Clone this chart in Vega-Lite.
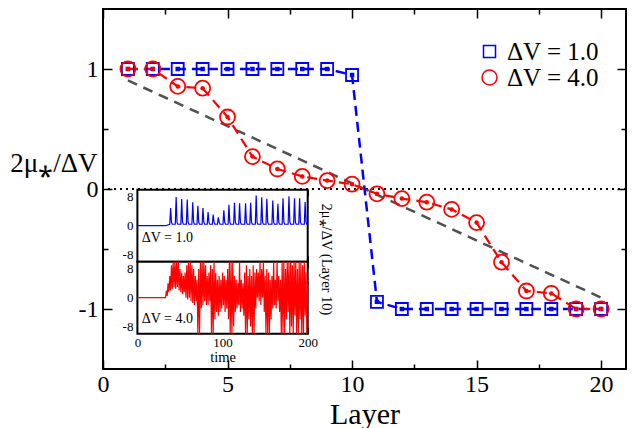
{
"$schema": "https://vega.github.io/schema/vega-lite/v6.json",
"width": 523, "height": 360,
"autosize": {"type": "none"},
"padding": {"left": 103, "top": 9, "right": 7, "bottom": 59},
"config": {
  "font": "Liberation Serif",
  "view": {"stroke": "black", "strokeWidth": 2},
  "axis": {"domain": false, "grid": false, "tickColor": "black", "tickWidth": 1.5, "labelColor": "black", "titleColor": "black", "titleFontWeight": "normal", "labelFont": "Liberation Serif", "titleFont": "Liberation Serif", "zindex": 1, "labelFlush": false, "labelOverlap": false},
  "legend": {"orient": "none", "legendX": 374, "legendY": 30, "labelFontSize": 25, "labelFont": "Liberation Serif", "labelColor": "black", "symbolSize": 170, "symbolStrokeWidth": 1.5, "rowPadding": 0, "labelOffset": 5, "padding": 0, "labelLimit": 300}
},
"datasets": {
  "main": [
    {"layer":1,"value":1,"series":"ΔV = 1.0"},{"layer":2,"value":1,"series":"ΔV = 1.0"},{"layer":3,"value":1,"series":"ΔV = 1.0"},{"layer":4,"value":1,"series":"ΔV = 1.0"},{"layer":5,"value":1,"series":"ΔV = 1.0"},{"layer":6,"value":1,"series":"ΔV = 1.0"},{"layer":7,"value":1,"series":"ΔV = 1.0"},{"layer":8,"value":1,"series":"ΔV = 1.0"},{"layer":9,"value":1,"series":"ΔV = 1.0"},{"layer":10,"value":0.95,"series":"ΔV = 1.0"},{"layer":11,"value":-0.94,"series":"ΔV = 1.0"},{"layer":12,"value":-1,"series":"ΔV = 1.0"},{"layer":13,"value":-1,"series":"ΔV = 1.0"},{"layer":14,"value":-1,"series":"ΔV = 1.0"},{"layer":15,"value":-1,"series":"ΔV = 1.0"},{"layer":16,"value":-1,"series":"ΔV = 1.0"},{"layer":17,"value":-1,"series":"ΔV = 1.0"},{"layer":18,"value":-1,"series":"ΔV = 1.0"},{"layer":19,"value":-1,"series":"ΔV = 1.0"},{"layer":20,"value":-1,"series":"ΔV = 1.0"},
    {"layer":1,"value":1,"series":"ΔV = 4.0"},{"layer":2,"value":1,"series":"ΔV = 4.0"},{"layer":3,"value":0.855,"series":"ΔV = 4.0"},{"layer":4,"value":0.84,"series":"ΔV = 4.0"},{"layer":5,"value":0.6,"series":"ΔV = 4.0"},{"layer":6,"value":0.27,"series":"ΔV = 4.0"},{"layer":7,"value":0.167,"series":"ΔV = 4.0"},{"layer":8,"value":0.105,"series":"ΔV = 4.0"},{"layer":9,"value":0.07,"series":"ΔV = 4.0"},{"layer":10,"value":0.04,"series":"ΔV = 4.0"},{"layer":11,"value":-0.04,"series":"ΔV = 4.0"},{"layer":12,"value":-0.08,"series":"ΔV = 4.0"},{"layer":13,"value":-0.11,"series":"ΔV = 4.0"},{"layer":14,"value":-0.17,"series":"ΔV = 4.0"},{"layer":15,"value":-0.28,"series":"ΔV = 4.0"},{"layer":16,"value":-0.61,"series":"ΔV = 4.0"},{"layer":17,"value":-0.85,"series":"ΔV = 4.0"},{"layer":18,"value":-0.87,"series":"ΔV = 4.0"},{"layer":19,"value":-1,"series":"ΔV = 4.0"},{"layer":20,"value":-1,"series":"ΔV = 4.0"}
  ],
  "grey": [{"layer":1,"value":0.905},{"layer":20,"value":-0.905}],
  "dv1": [
    {"t":0,"v":0},{"t":33,"v":0},{"t":38,"v":0.4},{"t":39,"v":4.9},{"t":40,"v":1},{"t":41,"v":0.4},
    {"t":44.5,"v":0.4},{"t":45.5,"v":8},{"t":46.5,"v":1},{"t":47.5,"v":0.4},
    {"t":51,"v":0.4},{"t":52,"v":7.4},{"t":53,"v":1},{"t":54,"v":0.4},
    {"t":57.5,"v":0.4},{"t":58.5,"v":7.3},{"t":59.5,"v":1},{"t":60.5,"v":0.4},
    {"t":64,"v":0.4},{"t":65,"v":6.5},{"t":66,"v":1},{"t":67,"v":0.4},
    {"t":70,"v":0.4},{"t":71,"v":5.5},{"t":72,"v":1},{"t":73,"v":0.4},
    {"t":76,"v":0.4},{"t":77,"v":4.9},{"t":78,"v":1},{"t":79,"v":0.4},
    {"t":82,"v":0.4},{"t":83,"v":3.8},{"t":84,"v":1},{"t":85,"v":0.4},
    {"t":88,"v":0.4},{"t":89,"v":3.1},{"t":90,"v":1},{"t":91,"v":0.4},
    {"t":94,"v":0.4},{"t":95,"v":2.3},{"t":96,"v":1},{"t":97,"v":0.4},
    {"t":100.5,"v":0.4},{"t":101.5,"v":4.3},{"t":102.5,"v":1},{"t":103.5,"v":0.4},
    {"t":106.5,"v":0.4},{"t":107.5,"v":5.8},{"t":108.5,"v":1},{"t":109.5,"v":0.4},
    {"t":113,"v":0.4},{"t":114,"v":6.4},{"t":115,"v":1},{"t":116,"v":0.4},
    {"t":119,"v":0.4},{"t":120,"v":6.2},{"t":121,"v":1},{"t":122,"v":0.4},
    {"t":126,"v":0.4},{"t":127,"v":6.2},{"t":128,"v":1},{"t":129,"v":0.4},
    {"t":132,"v":0.4},{"t":133,"v":6.4},{"t":134,"v":1},{"t":135,"v":0.4},
    {"t":138.5,"v":0.4},{"t":139.5,"v":8.4},{"t":140.5,"v":1},{"t":141.5,"v":0.4},
    {"t":145,"v":0.4},{"t":146,"v":7.9},{"t":147,"v":1},{"t":148,"v":0.4},
    {"t":151,"v":0.4},{"t":152,"v":7.5},{"t":153,"v":1},{"t":154,"v":0.4},
    {"t":158,"v":0.4},{"t":159,"v":7},{"t":160,"v":1},{"t":161,"v":0.4},
    {"t":164,"v":0.4},{"t":165,"v":6.1},{"t":166,"v":1},{"t":167,"v":0.4},
    {"t":170,"v":0.4},{"t":171,"v":7.6},{"t":172,"v":1},{"t":173,"v":0.4},
    {"t":177,"v":0.4},{"t":178,"v":8.2},{"t":179,"v":1},{"t":180,"v":0.4},
    {"t":183.5,"v":0.4},{"t":184.5,"v":7.6},{"t":185.5,"v":1},{"t":186.5,"v":0.4},
    {"t":189.5,"v":0.4},{"t":190.5,"v":7.6},{"t":191.5,"v":1},{"t":192.5,"v":0.4},
    {"t":196,"v":0.4},{"t":197,"v":6.6},{"t":198,"v":1},{"t":199,"v":0.4},{"t":200,"v":0.4}
  ],
  "dv4": [
    {"t":0,"v":0},{"t":33,"v":0},{"t":34,"v":2},{"t":35,"v":0.5},{"t":36,"v":4},{"t":37,"v":1.5},{"t":38,"v":6},{"t":39,"v":2},{"t":40,"v":9},
    {"t":41,"v":2.5},{"t":42,"v":10},{"t":43,"v":3},{"t":44,"v":10},{"t":45,"v":2.5},{"t":46,"v":10},{"t":47,"v":3},{"t":48,"v":10},{"t":49,"v":2},{"t":50,"v":8},
    {"t":51,"v":1.5},{"t":52,"v":7},{"t":53,"v":1},{"t":54,"v":6},{"t":55,"v":1.5},{"t":56,"v":7},{"t":57,"v":0},{"t":58,"v":9},{"t":59,"v":-0.5},{"t":60,"v":10},
    {"t":61,"v":0},{"t":62,"v":10},{"t":63,"v":-1},{"t":64,"v":9},{"t":65,"v":-1.5},{"t":66,"v":8},{"t":67,"v":-2},{"t":68,"v":6},{"t":69,"v":-1},{"t":70,"v":5},
    {"t":71,"v":-10},{"t":72,"v":8},{"t":73,"v":-10},{"t":74,"v":10},{"t":75,"v":-3},{"t":76,"v":10},{"t":77,"v":-2},{"t":78,"v":10},{"t":79,"v":-1},{"t":80,"v":9},
    {"t":81,"v":-2},{"t":82,"v":6},{"t":83,"v":-2},{"t":84,"v":7},{"t":85,"v":-1},{"t":86,"v":9},{"t":87,"v":-10},{"t":88,"v":8},{"t":89,"v":-10},{"t":90,"v":10},
    {"t":91,"v":-6},{"t":92,"v":7},{"t":93,"v":-4},{"t":94,"v":5},{"t":95,"v":-5},{"t":96,"v":6},{"t":97,"v":-4},{"t":98,"v":5},{"t":99,"v":-3},{"t":100,"v":7},
    {"t":101,"v":-2},{"t":102,"v":6},{"t":103,"v":-4},{"t":104,"v":5},{"t":105,"v":-3},{"t":106,"v":8},{"t":107,"v":-6},{"t":108,"v":10},{"t":109,"v":-10},{"t":110,"v":10},
    {"t":111,"v":-10},{"t":112,"v":10},{"t":113,"v":-8},{"t":114,"v":6},{"t":115,"v":-4},{"t":116,"v":5},{"t":117,"v":-3},{"t":118,"v":4},{"t":119,"v":-2},{"t":120,"v":10},
    {"t":121,"v":-4},{"t":122,"v":5},{"t":123,"v":-3},{"t":124,"v":4},{"t":125,"v":-5},{"t":126,"v":7},{"t":127,"v":-10},{"t":128,"v":9},{"t":129,"v":-10},{"t":130,"v":6},
    {"t":131,"v":-6},{"t":132,"v":8},{"t":133,"v":-8},{"t":134,"v":6},{"t":135,"v":-10},{"t":136,"v":9},{"t":137,"v":-10},{"t":138,"v":7},{"t":139,"v":-3},{"t":140,"v":8},
    {"t":141,"v":0},{"t":142,"v":7},{"t":143,"v":-1},{"t":144,"v":10},{"t":145,"v":-2},{"t":146,"v":8},{"t":147,"v":0},{"t":148,"v":10},{"t":149,"v":-4},{"t":150,"v":6},
    {"t":151,"v":-10},{"t":152,"v":8},{"t":153,"v":-10},{"t":154,"v":7},{"t":155,"v":-10},{"t":156,"v":5},{"t":157,"v":-6},{"t":158,"v":6},{"t":159,"v":-3},{"t":160,"v":10},
    {"t":161,"v":-2},{"t":162,"v":5},{"t":163,"v":-3},{"t":164,"v":10},{"t":165,"v":-1},{"t":166,"v":6},{"t":167,"v":-4},{"t":168,"v":5},{"t":169,"v":-10},{"t":170,"v":10},
    {"t":171,"v":-10},{"t":172,"v":10},{"t":173,"v":-10},{"t":174,"v":8},{"t":175,"v":-6},{"t":176,"v":10},{"t":177,"v":-4},{"t":178,"v":10},{"t":179,"v":-10},{"t":180,"v":10},
    {"t":181,"v":-8},{"t":182,"v":9},{"t":183,"v":-10},{"t":184,"v":10},{"t":185,"v":-5},{"t":186,"v":10},{"t":187,"v":-10},{"t":188,"v":8},{"t":189,"v":-10},{"t":190,"v":10},
    {"t":191,"v":-6},{"t":192,"v":10},{"t":193,"v":-10},{"t":194,"v":9},{"t":195,"v":-10},{"t":196,"v":10},{"t":197,"v":-5},{"t":198,"v":7},{"t":199,"v":-10},{"t":200,"v":4}
  ]
},
"layer": [
  {
    "layer": [
      {"data": {"values": [{}]},
       "mark": {"type": "rule", "strokeDash": [2, 4], "strokeWidth": 2, "color": "black"},
       "encoding": {"y": {"datum": 0, "type": "quantitative", "scale": {"domain": [-1.5, 1.5], "nice": false, "zero": false}, "axis": null}}},
      {"data": {"name": "grey"},
       "mark": {"type": "line", "color": "#505050", "strokeDash": [10, 7], "strokeWidth": 2.5},
       "encoding": {
         "x": {"field": "layer", "type": "quantitative", "scale": {"domain": [0, 21], "nice": false, "zero": false},
               "axis": {"orient": "bottom", "values": [0, 5, 10, 15, 20], "tickSize": -9, "labelPadding": 12, "labelFontSize": 24, "title": "Layer", "titleFontSize": 30, "titleBaseline": "alphabetic", "titleY": 54}},
         "y": {"field": "value", "type": "quantitative", "scale": {"domain": [-1.5, 1.5], "nice": false, "zero": false},
               "axis": {"orient": "left", "values": [-1, 0, 1], "tickSize": -9, "labelPadding": 14, "labelFontSize": 24, "labelExpr": "replace(datum.label, '−', '-')", "title": "2μ⁎/ΔV", "titleAngle": 0, "titleAlign": "right", "titleBaseline": "middle", "titleX": -6, "titleY": 154, "titleFontSize": 27}}
       }},
      {"data": {"name": "main"},
       "transform": [{"filter": "datum.series === 'ΔV = 1.0'"}],
       "mark": {"type": "line", "strokeDash": [10, 6], "strokeWidth": 2.5, "color": "#0000ff"},
       "encoding": {
         "x": {"field": "layer", "type": "quantitative", "scale": {"domain": [0, 21], "nice": false, "zero": false},
               "axis": {"orient": "bottom", "values": [2.5, 7.5, 12.5, 17.5], "tickSize": -5, "labels": false, "title": null}},
         "y": {"field": "value", "type": "quantitative", "scale": {"domain": [-1.5, 1.5], "nice": false, "zero": false},
               "axis": {"orient": "left", "values": [-0.5, 0.5], "tickSize": -5, "labels": false, "title": null}}
       }},
      {"data": {"name": "main"},
       "transform": [{"filter": "datum.series === 'ΔV = 4.0'"}],
       "mark": {"type": "line", "strokeDash": [10, 6], "strokeWidth": 2.2, "color": "#ff0000"},
       "encoding": {
         "x": {"field": "layer", "type": "quantitative", "scale": {"domain": [0, 21], "nice": false, "zero": false}, "axis": null},
         "y": {"field": "value", "type": "quantitative", "scale": {"domain": [-1.5, 1.5], "nice": false, "zero": false}, "axis": null}
       }},
      {"data": {"name": "main"},
       "mark": {"type": "point", "filled": false, "strokeWidth": 1.8, "opacity": 1},
       "encoding": {
         "x": {"field": "layer", "type": "quantitative", "scale": {"domain": [0, 21], "nice": false, "zero": false},
               "axis": {"orient": "top", "values": [0, 5, 10, 15, 20], "tickSize": -9, "labels": false, "title": null}},
         "y": {"field": "value", "type": "quantitative", "scale": {"domain": [-1.5, 1.5], "nice": false, "zero": false},
               "axis": {"orient": "right", "values": [-1, 0, 1], "tickSize": -9, "labels": false, "title": null}},
         "color": {"field": "series", "type": "nominal", "scale": {"domain": ["ΔV = 1.0", "ΔV = 4.0"], "range": ["#0000ff", "#ff0000"]}, "legend": {"title": null, "labelFont": "Liberation Serif", "labelFontSize": 25}},
         "shape": {"field": "series", "type": "nominal", "scale": {"domain": ["ΔV = 1.0", "ΔV = 4.0"], "range": ["square", "circle"]}, "legend": {"title": null, "labelFont": "Liberation Serif", "labelFontSize": 25}},
         "size": {"field": "series", "type": "nominal", "scale": {"type": "ordinal", "domain": ["ΔV = 1.0", "ΔV = 4.0"], "range": [144, 225]}, "legend": null}
       }},
      {"data": {"name": "main"},
       "transform": [{"filter": "datum.series === 'ΔV = 1.0'"}],
       "mark": {"type": "point", "shape": "square", "filled": true, "size": 20, "opacity": 1, "color": "#0000ff"},
       "encoding": {
         "x": {"field": "layer", "type": "quantitative", "scale": {"domain": [0, 21], "nice": false, "zero": false},
               "axis": {"orient": "top", "values": [2.5, 7.5, 12.5, 17.5], "tickSize": -5, "labels": false, "title": null}},
         "y": {"field": "value", "type": "quantitative", "scale": {"domain": [-1.5, 1.5], "nice": false, "zero": false},
               "axis": {"orient": "right", "values": [-0.5, 0.5], "tickSize": -5, "labels": false, "title": null}}
       }},
      {"data": {"name": "main"},
       "transform": [{"filter": "datum.series === 'ΔV = 4.0'"}],
       "mark": {"type": "point", "shape": "circle", "filled": true, "size": 20, "opacity": 1, "color": "#ff0000"},
       "encoding": {
         "x": {"field": "layer", "type": "quantitative", "scale": {"domain": [0, 21], "nice": false, "zero": false}, "axis": null},
         "y": {"field": "value", "type": "quantitative", "scale": {"domain": [-1.5, 1.5], "nice": false, "zero": false}, "axis": null}
       }}
    ],
    "resolve": {"axis": {"x": "independent", "y": "independent"}}
  },
  {
    "layer": [
      {"data": {"values": [{}]},
       "mark": {"type": "rect", "fill": "white", "stroke": "black", "strokeWidth": 2},
       "encoding": {
         "x": {"datum": 0, "type": "quantitative", "scale": {"domain": [0, 200], "range": [34.4, 204.7], "nice": false, "zero": false},
               "axis": {"orient": "bottom", "offset": -107.3, "values": [0, 25, 50, 75, 100, 125, 150, 175, 200], "tickSize": -6, "tickWidth": 1, "labels": false, "title": null}},
         "x2": {"datum": 200},
         "y": {"datum": -10, "type": "quantitative", "scale": {"domain": [-10, 10], "range": [252.7, 180.7], "nice": false, "zero": false},
               "axis": {"orient": "left", "offset": -34.4, "values": [-8, -4, 0, 4, 8], "tickSize": -6, "tickWidth": 1, "labelPadding": 10.5, "labelFontSize": 13, "labelExpr": "datum.value === 8 ? '8' : datum.value === 0 ? '0' : datum.value === -8 ? '-8' : ''", "title": null}},
         "y2": {"datum": 10}
       }},
      {"data": {"name": "dv1"},
       "mark": {"type": "line", "color": "#0000ff", "strokeWidth": 1.2},
       "encoding": {
         "x": {"field": "t", "type": "quantitative", "scale": {"domain": [0, 200], "range": [34.4, 204.7], "nice": false, "zero": false},
               "axis": {"orient": "top", "offset": -180.7, "values": [0, 25, 50, 75, 100, 125, 150, 175, 200], "tickSize": -6, "tickWidth": 1, "labels": false, "title": null}},
         "y": {"field": "v", "type": "quantitative", "scale": {"domain": [-10, 10], "range": [252.7, 180.7], "nice": false, "zero": false},
               "axis": {"orient": "right", "offset": -318.3, "values": [-8, -4, 0, 4, 8], "tickSize": -6, "tickWidth": 1, "labels": false, "title": "2μ⁎/ΔV (Layer 10)", "titleAngle": 90, "titleAlign": "center", "titleBaseline": "middle", "titleX": 18, "titleY": 250, "titleFontSize": 14.5}}
       }},
      {"data": {"values": [{}]},
       "mark": {"type": "text", "align": "left", "baseline": "middle", "fontSize": 14, "font": "Liberation Serif", "color": "black"},
       "encoding": {
         "x": {"datum": 5, "type": "quantitative", "scale": {"domain": [0, 200], "range": [34.4, 204.7], "nice": false, "zero": false}, "axis": null},
         "y": {"datum": -3.5, "type": "quantitative", "scale": {"domain": [-10, 10], "range": [252.7, 180.7], "nice": false, "zero": false}, "axis": null},
         "text": {"value": "ΔV = 1.0"}
       }}
    ],
    "resolve": {"axis": {"x": "independent", "y": "independent"}}
  },
  {
    "layer": [
      {"data": {"values": [{}]},
       "mark": {"type": "rect", "fill": "white", "stroke": "black", "strokeWidth": 2},
       "encoding": {
         "x": {"datum": 0, "type": "quantitative", "scale": {"domain": [0, 200], "range": [34.4, 204.7], "nice": false, "zero": false},
               "axis": {"orient": "bottom", "offset": -35.3, "values": [0, 25, 50, 75, 100, 125, 150, 175, 200], "tickSize": -6, "tickWidth": 1, "labelPadding": 9, "labelFontSize": 13, "labelExpr": "datum.value % 100 === 0 ? datum.label : ''", "title": "time", "titleFontSize": 14.5, "titleBaseline": "alphabetic", "titleY": 27.5}},
         "x2": {"datum": 200},
         "y": {"datum": -10, "type": "quantitative", "scale": {"domain": [-10, 10], "range": [324.7, 252.7], "nice": false, "zero": false},
               "axis": {"orient": "left", "offset": -34.4, "values": [-8, -4, 0, 4, 8], "tickSize": -6, "tickWidth": 1, "labelPadding": 10.5, "labelFontSize": 13, "labelExpr": "datum.value === 8 ? '8' : datum.value === 0 ? '0' : datum.value === -8 ? '-8' : ''", "title": null}},
         "y2": {"datum": 10}
       }},
      {"data": {"name": "dv4"},
       "mark": {"type": "line", "color": "#ff0000", "strokeWidth": 1.2},
       "encoding": {
         "x": {"field": "t", "type": "quantitative", "scale": {"domain": [0, 200], "range": [34.4, 204.7], "nice": false, "zero": false},
               "axis": {"orient": "top", "offset": -252.7, "values": [0, 25, 50, 75, 100, 125, 150, 175, 200], "tickSize": -6, "tickWidth": 1, "labels": false, "title": null}},
         "y": {"field": "v", "type": "quantitative", "scale": {"domain": [-10, 10], "range": [324.7, 252.7], "nice": false, "zero": false},
               "axis": {"orient": "right", "offset": -318.3, "values": [-8, -4, 0, 4, 8], "tickSize": -6, "tickWidth": 1, "labels": false, "title": null}}
       }},
      {"data": {"values": [{}]},
       "mark": {"type": "text", "align": "left", "baseline": "middle", "fontSize": 14, "font": "Liberation Serif", "color": "black"},
       "encoding": {
         "x": {"datum": 5, "type": "quantitative", "scale": {"domain": [0, 200], "range": [34.4, 204.7], "nice": false, "zero": false}, "axis": null},
         "y": {"datum": -5.8, "type": "quantitative", "scale": {"domain": [-10, 10], "range": [324.7, 252.7], "nice": false, "zero": false}, "axis": null},
         "text": {"value": "ΔV = 4.0"}
       }}
    ],
    "resolve": {"axis": {"x": "independent", "y": "independent"}}
  }
],
"resolve": {"scale": {"x": "independent", "y": "independent"}}
}
